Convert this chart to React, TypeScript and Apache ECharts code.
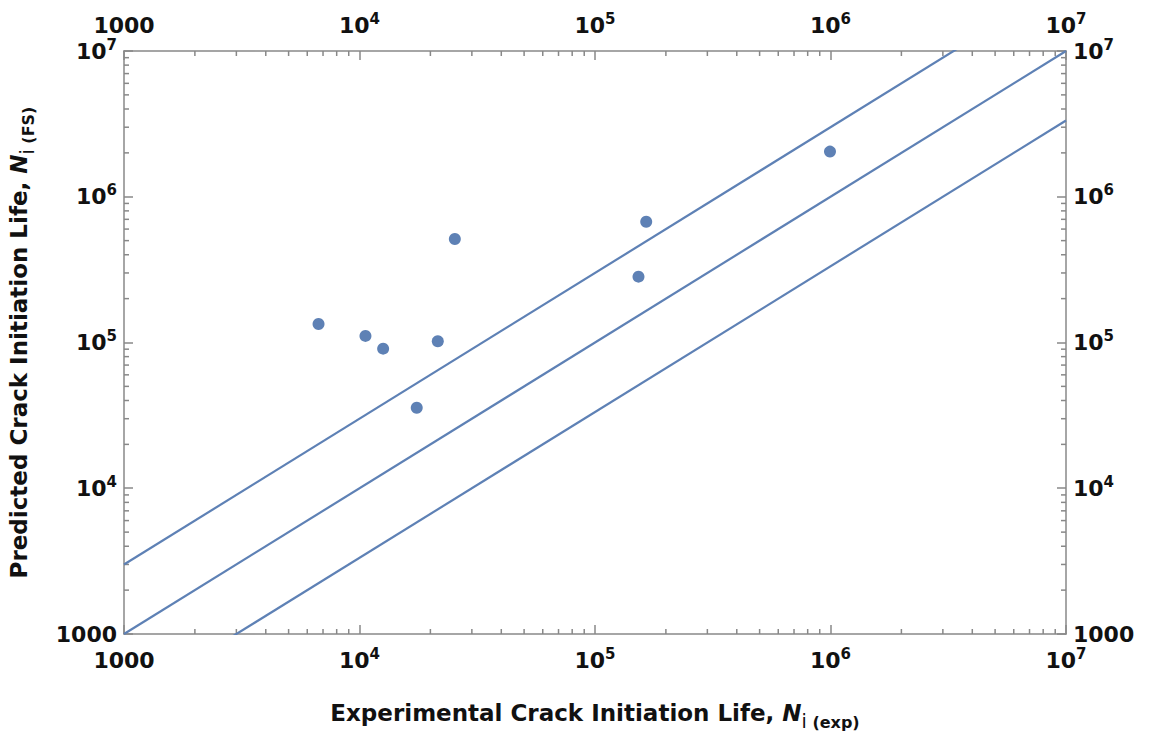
import React, { useEffect, useRef } from "react";
import * as echarts from "echarts";

const AXIS_MIN = 1000;
const AXIS_MAX = 1e7;
const decades = [1e3, 1e4, 1e5, 1e6];
const minorMultipliers = [2, 3, 4, 5, 6, 7, 8, 9];
const guideFactors = [3, 1, 1 / 3];
const guideX = [1000, 1e7];

const expLife = [6700, 10600, 12600, 21500, 25400, 17500, 165000, 153000, 995000];
const predLife = [134000, 111000, 90700, 102000, 513000, 35700, 674000, 283000, 2040000];

const FONT = "DejaVu Sans";
const BLUE = "#5e81b5";
const AXIS_GREY = "#888888";

const minorValues = decades.flatMap((d) => minorMultipliers.map((m) => m * d));

function tickLabel(v: number) {
  const e = Math.round(Math.log10(v));
  if (e === 3) return "{n|1000}";
  return "{n|10}{sup|" + e + "}";
}

const labelRich = {
  n: { fontFamily: FONT, fontSize: 22, fontWeight: "bold", color: "#111", lineHeight: 28 },
  sup: { fontFamily: FONT, fontSize: 15, fontWeight: "bold", color: "#111", lineHeight: 15, verticalAlign: "top" },
};

const nameRich = {
  t: { fontFamily: FONT, fontSize: 23, fontWeight: "bold", color: "#111", lineHeight: 34 },
  n: { fontFamily: FONT, fontSize: 23, fontWeight: "bold", fontStyle: "italic", color: "#111", lineHeight: 34 },
  s: { fontFamily: FONT, fontSize: 19, color: "#111", lineHeight: 19, verticalAlign: "bottom" },
  e: { fontFamily: FONT, fontSize: 16, fontWeight: "bold", color: "#111", lineHeight: 18, verticalAlign: "bottom" },
};

function makeAxis(position: string, isX: boolean, withName: boolean, name: string) {
  const ax: any = {
    type: "log",
    logBase: 10,
    min: AXIS_MIN,
    max: AXIS_MAX,
    position,
    splitLine: { show: false },
    axisLine: { show: true, lineStyle: { color: AXIS_GREY, width: 1.5 } },
    axisTick: { show: true, inside: true, length: 9, lineStyle: { color: AXIS_GREY, width: 1.5 } },
    axisLabel: {
      show: true,
      showMinLabel: true,
      showMaxLabel: true,
      hideOverlap: false,
      margin: isX ? 12 : 7,
      formatter: tickLabel,
      rich: labelRich,
    },
  };
  if (withName) {
    ax.name = name;
    ax.nameLocation = "middle";
    ax.nameGap = isX ? 62 : 88;
    if (!isX) ax.nameRotate = 90;
    ax.nameTextStyle = { rich: nameRich };
  }
  return ax;
}

function tickLine(x1: number, y1: number, x2: number, y2: number) {
  return {
    type: "line",
    shape: { x1, y1, x2, y2 },
    style: { stroke: AXIS_GREY, lineWidth: 1.5 },
  };
}

export default function App() {
  const ref = useRef<HTMLDivElement>(null);
  useEffect(() => {
    if (!ref.current) return;
    const chart = echarts.init(ref.current, null, { renderer: "svg" });
    const option: any = {
      animation: false,
      backgroundColor: "#ffffff",
      grid: { left: 124, right: 85, top: 51, bottom: 101, containLabel: false, outerBoundsMode: "none" },
      xAxis: [
        makeAxis("bottom", true, true, "{t|Experimental Crack Initiation Life, }{n|N}{s|i}{e| (exp)}"),
        makeAxis("top", true, false, ""),
      ],
      yAxis: [
        makeAxis("left", false, true, "{t|Predicted Crack Initiation Life, }{n|N}{s|i}{e| (FS)}"),
        makeAxis("right", false, false, ""),
      ],
      series: [
        ...guideFactors.map((f) => ({
          type: "line",
          xAxisIndex: 0,
          yAxisIndex: 0,
          data: guideX.map((x) => [x, x * f]),
          showSymbol: false,
          symbol: "none",
          clip: true,
          lineStyle: { color: BLUE, width: 2.2 },
          silent: true,
        })),
        {
          type: "custom",
          coordinateSystem: "cartesian2d",
          xAxisIndex: 0,
          yAxisIndex: 0,
          clip: false,
          silent: true,
          data: minorValues.map((v) => [v, AXIS_MIN]),
          renderItem: (params: any, api: any) => {
            const v = api.value(0);
            const b = api.coord([v, AXIS_MIN]);
            const t = api.coord([v, AXIS_MAX]);
            return {
              type: "group",
              children: [tickLine(b[0], b[1], b[0], b[1] - 5), tickLine(t[0], t[1], t[0], t[1] + 5)],
            };
          },
        },
        {
          type: "custom",
          coordinateSystem: "cartesian2d",
          xAxisIndex: 0,
          yAxisIndex: 0,
          clip: false,
          silent: true,
          data: minorValues.map((v) => [AXIS_MIN, v]),
          renderItem: (params: any, api: any) => {
            const v = api.value(1);
            const l = api.coord([AXIS_MIN, v]);
            const r = api.coord([AXIS_MAX, v]);
            return {
              type: "group",
              children: [tickLine(l[0], l[1], l[0] + 5, l[1]), tickLine(r[0], r[1], r[0] - 5, r[1])],
            };
          },
        },
        {
          type: "scatter",
          xAxisIndex: 0,
          yAxisIndex: 0,
          data: expLife.map((x, i) => [x, predLife[i]]),
          symbol: "circle",
          symbolSize: 12,
          itemStyle: { color: BLUE, opacity: 1 },
          z: 5,
        },
      ],
    };
    chart.setOption(option);
    return () => chart.dispose();
  }, []);
  return (
    <div
      ref={ref}
      style={{ position: "absolute", left: 0, top: 0, width: 1151, height: 735, background: "#fff" }}
    />
  );
}
